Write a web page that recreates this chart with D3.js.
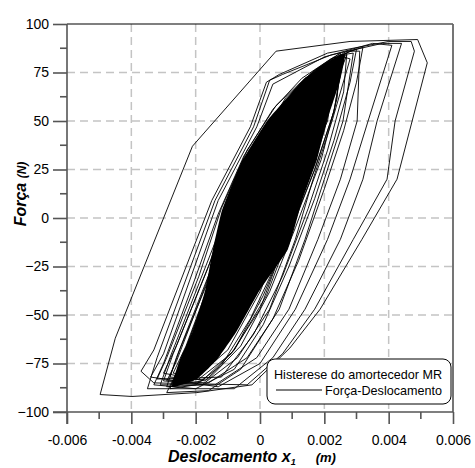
<!DOCTYPE html>
<html>
<head>
<meta charset="utf-8">
<title>Histerese do amortecedor MR</title>
<script src="https://cdn.jsdelivr.net/npm/d3@7"></script>
<style>
  body { margin: 0; background: #fff; }
  text { font-family: "Liberation Sans", Arial, sans-serif; }
</style>
</head>
<body>
<div id="main"></div>
<script>
var WIDTH = 475, HEIGHT = 468;
var LEFT = 67, RIGHT = 453, TOP = 24, BOTTOM = 412;

// axis ticks
var xTicks = [-0.006, -0.004, -0.002, 0, 0.002, 0.004, 0.006];
var xTickLabels = ["-0.006", "-0.004", "-0.002", "0", "0.002", "0.004", "0.006"];
var xMinor = [-0.005, -0.003, -0.001, 0.001, 0.003, 0.005];
var yTicks = [-100, -75, -50, -25, 0, 25, 50, 75, 100];
var yMinor = [-87.5, -62.5, -37.5, -12.5, 12.5, 37.5, 62.5, 87.5];
var xGrid = [-0.004, -0.002, 0, 0.002, 0.004];
var yGrid = [-75, -50, -25, 0, 25, 50, 75];

// saturated centre where hundreds of cycles overlap: [x (m), F (N)]
var denseCore = [
  [-0.00273, -87], [-0.00249, -73], [-0.00208, -58], [-0.00170, -37], [-0.00146, -16],
  [-0.00118, 4], [-0.00060, 28], [0.00022, 50], [0.00134, 71], [0.00218, 81],
  [0.00264, 84], [0.00249, 71], [0.00208, 50], [0.00177, 30], [0.00131, 9], [0.00087, -16],
  [0.00000, -37], [-0.00071, -58], [-0.00134, -73], [-0.00196, -83]
];

// individual hysteresis cycles visible around the centre: [x (m), F (N)]
var loop1 = [[-0.00497, -91], [-0.0045, -62], [-0.0021, 37], [0.0005, 86], [0.0028, 91], [0.0049, 92],
  [0.0052, 80], [0.00426, 20], [0.00317, -11], [0.00187, -47], [0.00093, -67], [-0.00025, -86],
  [-0.00196, -90], [-0.00398, -92], [-0.00497, -91]];
var loop2 = [[-0.0037, -79], [-0.0033, -68], [-0.0015, 9], [-0.0003, 47], [0.0002, 70], [0.0006, 74],
  [0.0021, 85], [0.0040, 91], [0.0047, 91], [0.0048, 86], [0.0042, 50], [0.00395, 20], [0.0029, -11],
  [0.0017, -47], [0.0007, -70], [-0.0004, -86], [-0.0033, -85], [-0.0037, -79]];
var loop3 = [[-0.0035, -88], [-0.0032, -72], [-0.0014, 9], [-0.0002, 47], [0.0003, 71], [0.0007, 74],
  [0.0022, 84], [0.0038, 90], [0.0044, 90], [0.00364, 50], [0.0032, 20], [0.0025, -11],
  [0.0014, -47], [0.0004, -72], [-0.0008, -88], [-0.0035, -88]];
var loop4 = [[-0.0034, -82], [-0.0030, -70], [-0.0013, 9], [-0.0001, 47], [0.0004, 69], [0.0020, 83],
  [0.0035, 90], [0.0041, 89], [0.00336, 50], [0.0028, 20], [0.0021, -11], [0.0011, -47],
  [0.0000, -75], [-0.0013, -87], [-0.0034, -82]];
var loop5 = [[-0.0031, -86], [-0.0028, -72], [-0.0011, 0], [0.0000, 40], [0.0008, 62], [0.0017, 76],
  [0.0027, 86], [0.0031, 86], [0.00302, 50], [0.0025, 20], [0.0018, -11], [0.0009, -47],
  [-0.0001, -72], [-0.0014, -86], [-0.0031, -86]];
var loop6 = [[-0.0030, -84], [-0.0027, -70], [-0.0010, 0], [0.0001, 40], [0.0009, 62], [0.0018, 77],
  [0.0025, 84], [0.0029, 85], [0.00258, 50], [0.0020, 20], [0.0014, -11], [0.0006, -47],
  [-0.0004, -72], [-0.0016, -85], [-0.0030, -84]];
var loop7 = [[-0.0029, -87], [-0.0026, -72], [-0.0009, 0], [0.0002, 40], [0.0010, 63], [0.0019, 78],
  [0.0026, 83], [0.0028, 82], [0.00224, 50], [0.00165, 20], [0.0011, -11], [0.0003, -47],
  [-0.0007, -72], [-0.0018, -86], [-0.0029, -87]];
var loop8 = [[-0.0028, -82], [-0.0025, -68], [-0.0008, 0], [0.0003, 40], [0.0011, 63], [0.0020, 78],
  [0.0027, 84], [0.00187, 50], [0.0013, 20], [0.0008, -11], [0.0000, -47], [-0.0009, -70],
  [-0.0019, -83], [-0.0028, -82]];
var loop9 = [[-0.0027, -85], [-0.0023, -70], [-0.0013, -20], [-0.0006, 20], [0.0004, 50], [0.0014, 72],
  [0.0024, 83], [0.0021, 50], [0.0013, 20], [0.0004, -15], [-0.0004, -45], [-0.0013, -72],
  [-0.0021, -84], [-0.0027, -85]];
var loop10 = [[-0.0025, -83], [-0.0021, -68], [-0.0012, -22], [-0.0004, 20], [0.0005, 48], [0.0015, 72],
  [0.0023, 80], [0.0019, 48], [0.0011, 20], [0.0003, -15], [-0.0006, -45], [-0.0014, -70],
  [-0.0021, -81], [-0.0025, -83]];
var loop11 = [[-0.0030, -80], [-0.0026, -66], [-0.0016, -25], [-0.0010, 5], [-0.0002, 35], [0.0007, 58],
  [0.0016, 74], [0.0024, 84], [0.0026, 84], [0.0023, 55], [0.0017, 25], [0.0010, -5], [0.0002, -40],
  [-0.0008, -68], [-0.0017, -84], [-0.0030, -80]];
var loop12 = [[-0.0029, -84], [-0.0026, -74], [-0.0017, -35], [-0.0009, 5], [-0.0001, 38], [0.0008, 60],
  [0.0017, 76], [0.0025, 85], [0.0024, 62], [0.0019, 30], [0.0011, -5], [0.0003, -38], [-0.0006, -66],
  [-0.0016, -83], [-0.0029, -84]];
var loop13 = [[-0.0028, -88], [-0.0025, -76], [-0.0016, -36], [-0.0011, -10], [-0.0003, 28], [0.0006, 55],
  [0.0016, 75], [0.0023, 83], [0.0025, 82], [0.0020, 45], [0.0014, 15], [0.0006, -20], [-0.0003, -52],
  [-0.0012, -76], [-0.0020, -86], [-0.0028, -88]];
var loop14 = [[-0.0032, -83], [-0.0029, -72], [-0.0019, -30], [-0.0012, 5], [-0.0004, 35], [0.0005, 58],
  [0.0014, 72], [0.0023, 82], [0.0027, 85], [0.0026, 65], [0.0021, 35], [0.0015, 5], [0.0007, -30],
  [-0.0002, -60], [-0.0012, -82], [-0.0032, -83]];
var loop15 = [[-0.0027, -80], [-0.0023, -66], [-0.0014, -26], [-0.0008, 5], [0.0000, 35], [0.0009, 60],
  [0.0018, 77], [0.0024, 82], [0.0022, 60], [0.0016, 30], [0.0008, -5], [0.0000, -38], [-0.0010, -68],
  [-0.0019, -81], [-0.0027, -80]];
var loop16 = [[-0.0026, -86], [-0.0022, -72], [-0.0015, -40], [-0.0007, 0], [0.0002, 35], [0.0011, 62],
  [0.0019, 76], [0.0026, 84], [0.0023, 55], [0.0017, 25], [0.0009, -8], [0.0001, -40], [-0.0008, -68],
  [-0.0018, -84], [-0.0026, -86]];
var loop17 = [[-0.0033, -86], [-0.0030, -75], [-0.0021, -35], [-0.0013, 2], [-0.0005, 32], [0.0004, 56],
  [0.0013, 72], [0.0022, 82], [0.0030, 87], [0.0028, 70], [0.0023, 40], [0.0017, 10], [0.0009, -25],
  [0.0001, -55], [-0.0008, -78], [-0.0020, -88], [-0.0033, -86]];
var loop18 = [[-0.0029, -90], [-0.0026, -80], [-0.0018, -45], [-0.0012, -15], [-0.0005, 20], [0.0004, 50],
  [0.0013, 70], [0.0021, 80], [0.0028, 86], [0.0032, 88], [0.0030, 70], [0.0026, 45], [0.0020, 15],
  [0.0012, -22], [0.0004, -52], [-0.0006, -78], [-0.0016, -89], [-0.0029, -90]];
var loops = [loop1, loop2, loop3, loop4, loop5, loop6, loop7, loop8, loop9,
             loop10, loop11, loop12, loop13, loop14, loop15, loop16, loop17, loop18];

var svg = d3.select('#main').append('svg')
            .attr('width', WIDTH).attr('height', HEIGHT);

var x = d3.scaleLinear().domain([-0.006, 0.006]).range([LEFT, RIGHT]);
var y = d3.scaleLinear().domain([-100, 100]).range([BOTTOM, TOP]);

// dashed grid
svg.append('g').selectAll('line.gx').data(xGrid).enter().append('line')
  .attr('x1', x).attr('x2', x).attr('y1', TOP).attr('y2', BOTTOM)
  .attr('stroke', '#c4c4c4').attr('stroke-width', 1.5).attr('stroke-dasharray', '8,5');
svg.append('g').selectAll('line.gy').data(yGrid).enter().append('line')
  .attr('y1', y).attr('y2', y).attr('x1', LEFT).attr('x2', RIGHT)
  .attr('stroke', '#c4c4c4').attr('stroke-width', 1.5).attr('stroke-dasharray', '8,5');

// data
var line = d3.line().x(function(d) { return x(d[0]); }).y(function(d) { return y(d[1]); });
svg.append('path').datum(denseCore)
  .attr('d', d3.line().x(function(d) { return x(d[0]); }).y(function(d) { return y(d[1]); })
    .curve(d3.curveCardinalClosed.tension(0.6)))
  .attr('fill', '#000');
svg.append('g').selectAll('path').data(loops).enter().append('path')
  .attr('d', line).attr('fill', 'none').attr('stroke', '#000').attr('stroke-width', 0.9);

// frame
svg.append('line').attr('x1', LEFT).attr('x2', RIGHT).attr('y1', TOP).attr('y2', TOP)
  .attr('stroke', '#000').attr('stroke-width', 1.2);
svg.append('line').attr('x1', RIGHT).attr('x2', RIGHT).attr('y1', TOP).attr('y2', BOTTOM)
  .attr('stroke', '#666').attr('stroke-width', 1.8);

// x axis
var xAxis = svg.append('g').attr('transform', 'translate(0,' + BOTTOM + ')');
xAxis.call(d3.axisBottom(x).tickValues(xTicks).tickSize(12).tickSizeOuter(0)
  .tickFormat(function(d, i) { return xTickLabels[i]; }));
xAxis.selectAll('.minor').data(xMinor).enter().append('line').attr('class', 'minor')
  .attr('x1', x).attr('x2', x).attr('y1', 0).attr('y2', 7);
xAxis.select('.domain').attr('d', 'M' + (LEFT - 14) + ',0H' + RIGHT);
xAxis.selectAll('text').attr('dy', null).attr('y', 33).attr('font-size', 14).attr('fill', '#000');

// y axis
var yAxis = svg.append('g').attr('transform', 'translate(' + LEFT + ',0)');
yAxis.call(d3.axisLeft(y).tickValues(yTicks).tickSize(14).tickSizeOuter(0));
yAxis.selectAll('.minor').data(yMinor).enter().append('line').attr('class', 'minor')
  .attr('y1', y).attr('y2', y).attr('x1', 0).attr('x2', -7);
yAxis.select('.domain').attr('d', 'M0,' + TOP + 'V' + (BOTTOM + 12));
yAxis.selectAll('text').attr('x', -18).attr('font-size', 14).attr('fill', '#000');

svg.selectAll('.domain, .tick line, .minor').attr('stroke', '#555').attr('stroke-width', 1.6);

// axis titles
var xt = svg.append('text').attr('x', 168).attr('y', 462)
  .attr('font-weight', 'bold').attr('font-style', 'italic').attr('font-size', 16);
xt.append('tspan').text('Deslocamento x');
xt.append('tspan').attr('font-size', 9).attr('dy', 3).text('1');
xt.append('tspan').attr('font-size', 13).attr('dy', -3).attr('dx', 20).text('(m)');

var yt = svg.append('text').attr('transform', 'translate(26,194) rotate(-90)')
  .attr('text-anchor', 'middle')
  .attr('font-weight', 'bold').attr('font-style', 'italic').attr('font-size', 16);
yt.append('tspan').text('Força ');
yt.append('tspan').attr('font-size', 12).text('(N)');

// legend
var lg = svg.append('g');
lg.append('rect').attr('x', 267).attr('y', 359).attr('width', 184).attr('height', 45)
  .attr('rx', 8).attr('fill', '#fff').attr('stroke', '#000').attr('stroke-width', 1);
lg.append('text').attr('x', 442).attr('y', 379).attr('text-anchor', 'end')
  .attr('font-size', 12.6).text('Histerese do amortecedor MR');
lg.append('line').attr('x1', 276).attr('x2', 322).attr('y1', 390).attr('y2', 390)
  .attr('stroke', '#000').attr('stroke-width', 1);
lg.append('text').attr('x', 442).attr('y', 395).attr('text-anchor', 'end')
  .attr('font-size', 12.6).text('Força-Deslocamento');
</script>
</body>
</html>
